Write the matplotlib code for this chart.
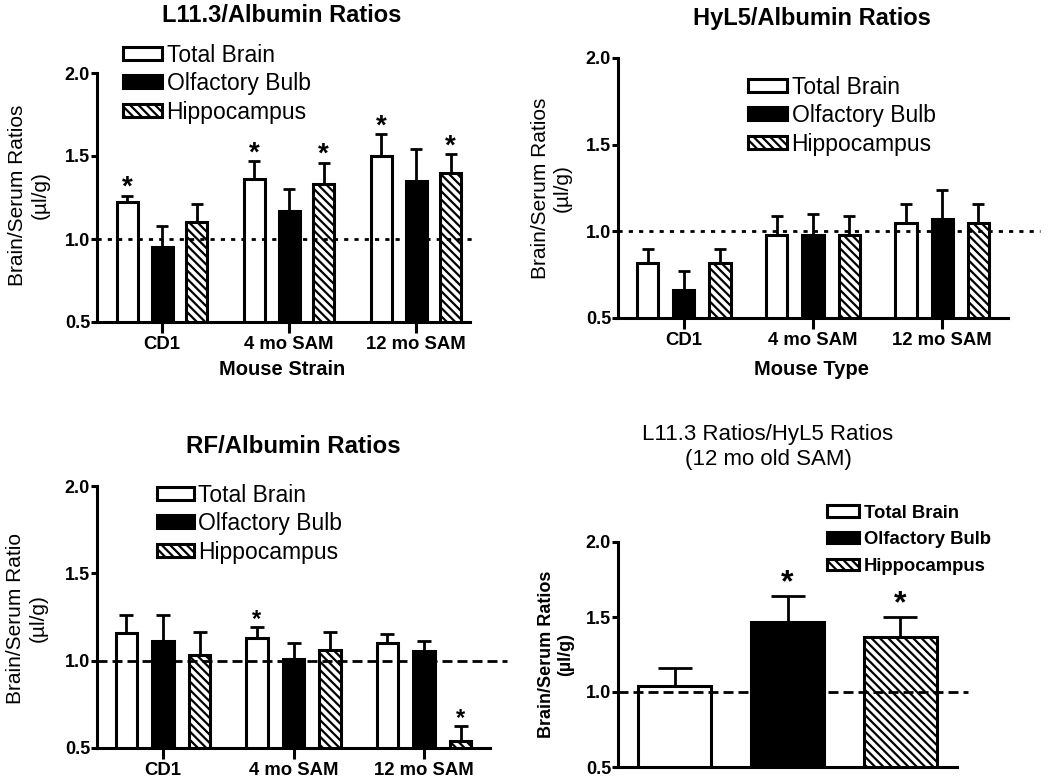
import matplotlib
matplotlib.use("Agg")
import matplotlib.pyplot as plt
import numpy as np

plt.rcParams['font.family'] = ['Liberation Sans', 'DejaVu Sans']
plt.rcParams['hatch.linewidth'] = 1.6

# Valores
grupos = ['CD1', '4 mo SAM', '12 mo SAM']
series = ['Total Brain', 'Olfactory Bulb', 'Hippocampus']

# L11.3/Albumin
l11_media = [[1.22, 1.36, 1.50], [0.95, 1.17, 1.35], [1.10, 1.33, 1.40]]
l11_sem = [[0.04, 0.11, 0.13], [0.13, 0.13, 0.19], [0.11, 0.13, 0.11]]
l11_sig = [[1, 1, 1], [0, 0, 0], [0, 1, 1]]

# HyL5/Albumin
hyl5_media = [[0.82, 0.98, 1.05], [0.66, 0.98, 1.07], [0.82, 0.98, 1.05]]
hyl5_sem = [[0.08, 0.11, 0.11], [0.11, 0.12, 0.17], [0.08, 0.11, 0.11]]
hyl5_sig = [[0, 0, 0], [0, 0, 0], [0, 0, 0]]

# RF/Albumin
rf_media = [[1.16, 1.13, 1.10], [1.11, 1.01, 1.055], [1.035, 1.06, 0.54]]
rf_sem = [[0.10, 0.06, 0.05], [0.15, 0.09, 0.055], [0.13, 0.105, 0.085]]
rf_sig = [[0, 1, 0], [0, 0, 0], [0, 0, 1]]

# L11.3 / HyL5 (12 mo SAM)
razao_media = [1.04, 1.47, 1.37]
razao_sem = [0.12, 0.17, 0.13]
razao_sig = [0, 1, 1]

W, H = 1050, 782
fig = plt.figure(figsize=(W / 100, H / 100), dpi=100)

cores = ['white', 'black', 'white']
hatches = [None, None, '\\\\\\\\']
LW = 2.2


def eixo(left, right, top, bottom, ytick_fs):
    ax = fig.add_axes([left / W, 1 - bottom / H, (right - left) / W, (bottom - top) / H])
    for s in ['top', 'right']:
        ax.spines[s].set_visible(False)
    for s in ['left', 'bottom']:
        ax.spines[s].set_linewidth(LW)
    ax.set_ylim(0.5, 2.0)
    ax.set_yticks([0.5, 1.0, 1.5, 2.0])
    ax.set_yticklabels(['0.5', '1.0', '1.5', '2.0'], fontsize=ytick_fs, fontweight='bold')
    ax.tick_params(axis='y', length=4, width=LW, pad=1)
    ax.tick_params(axis='x', length=8, width=LW, pad=2)
    return ax


def barras_grupo(ax, media, sem, sig, pitch, largura, star_fs, star_off, cap):
    x = np.arange(len(grupos))
    for i in range(3):
        xi = x + (i - 1) * pitch
        ax.bar(xi, media[i], largura, color=cores[i], edgecolor='black',
               linewidth=LW, hatch=hatches[i], label=series[i], zorder=2)
        ax.errorbar(xi, media[i], yerr=[np.zeros(3), sem[i]], fmt='none', ecolor='black',
                    elinewidth=2.0, capsize=cap, capthick=2.0, zorder=3)
        for j in range(3):
            if sig[i][j]:
                ax.annotate('*', (xi[j], media[i][j] + sem[i][j]), xytext=(0, star_off),
                            textcoords='offset points', ha='center', va='bottom',
                            fontsize=star_fs, fontweight='bold')


def legenda(ax, x, y, fs, peso, hl, hh, ls, tp):
    ax.legend(loc='upper left', bbox_to_anchor=(x / W, 1 - y / H), bbox_transform=fig.transFigure,
              frameon=False, borderpad=0, borderaxespad=0, handlelength=hl, handleheight=hh,
              handletextpad=tp, labelspacing=ls, prop={'size': fs, 'weight': peso})


def linha_ref(ax, x0, x1, estilo):
    ax.plot([x0, x1], [1.0, 1.0], color='black', lw=2.0, linestyle=estilo, clip_on=False, zorder=4)


# Painel 1
ax1 = eixo(97, 470, 73, 322, 13)
ax1.set_xlim(-0.512, 2.425)
barras_grupo(ax1, l11_media, l11_sem, l11_sig, 0.272, 0.165, 20, -3.8, 4.5)
linha_ref(ax1, -0.512, 2.48, (0, (1.5, 2.2)))
ax1.set_xticks(range(3))
ax1.set_xticklabels(grupos, fontsize=13.3, fontweight='bold')
legenda(ax1, 123, 43.5, 16.5, 'normal', 1.7, 0.5, 0.24, 0.2)
fig.text(282 / W, 1 - 15 / H, 'L11.3/Albumin Ratios', ha='center', va='center', fontsize=17, fontweight='bold')
fig.text(29 / W, 1 - 195 / H, 'Brain/Serum Ratios\n(µl/g)', rotation=90, ha='center', va='center',
         multialignment='center', fontsize=15)
fig.text(282 / W, 1 - 369 / H, 'Mouse Strain', ha='center', va='center', fontsize=14.5, fontweight='bold')

# Painel 2
ax2 = eixo(618, 1008, 58, 318, 13)
ax2.set_xlim(-0.51, 2.51)
barras_grupo(ax2, hyl5_media, hyl5_sem, hyl5_sig, 0.28, 0.163, 20, -3.8, 4.5)
linha_ref(ax2, -0.51, 2.76, (0, (1.5, 2.2)))
ax2.set_xticks(range(3))
ax2.set_xticklabels(grupos, fontsize=13.3, fontweight='bold')
legenda(ax2, 748, 75.5, 16.5, 'normal', 1.7, 0.5, 0.24, 0.2)
fig.text(812 / W, 1 - 18 / H, 'HyL5/Albumin Ratios', ha='center', va='center', fontsize=17, fontweight='bold')
fig.text(551 / W, 1 - 188 / H, 'Brain/Serum Ratios\n(µl/g)', rotation=90, ha='center', va='center',
         multialignment='center', fontsize=15)
fig.text(812 / W, 1 - 369 / H, 'Mouse Type', ha='center', va='center', fontsize=14.5, fontweight='bold')

# Painel 3
ax3 = eixo(97, 490, 486, 748, 13)
ax3.set_xlim(-0.506, 2.506)
barras_grupo(ax3, rf_media, rf_sem, rf_sig, 0.28, 0.165, 17, -2.7, 5)
linha_ref(ax3, -0.506, 2.64, (0, (3.6, 1.8)))
ax3.set_xticks(range(3))
ax3.set_xticklabels(grupos, fontsize=13.3, fontweight='bold')
legenda(ax3, 157, 483.5, 16.5, 'normal', 1.6, 0.5, 0.24, 0.2)
fig.text(293 / W, 1 - 446 / H, 'RF/Albumin Ratios', ha='center', va='center', fontsize=17.3, fontweight='bold')
fig.text(27 / W, 1 - 618 / H, 'Brain/Serum Ratio\n(µl/g)', rotation=90, ha='center', va='center',
         multialignment='center', fontsize=15)

# Painel 4
ax4 = eixo(618, 957, 542, 767, 13)
ax4.set_xlim(-0.5, 2.5)
x4 = np.arange(3)
for i in range(3):
    ax4.bar(x4[i], razao_media[i], 0.646, color=cores[i], edgecolor='black', linewidth=LW,
            hatch=hatches[i], label=series[i], zorder=2)
ax4.errorbar(x4, razao_media, yerr=[np.zeros(3), razao_sem], fmt='none', ecolor='black',
             elinewidth=2.0, capsize=12, capthick=2.0, zorder=3)
for i in range(3):
    if razao_sig[i]:
        ax4.annotate('*', (x4[i], razao_media[i] + razao_sem[i]), xytext=(0, -1.5),
                     textcoords='offset points', ha='center', va='bottom', fontsize=23, fontweight='bold')
linha_ref(ax4, -0.5, 2.6, (0, (3.6, 1.8)))
ax4.set_xticks([])
legenda(ax4, 827, 504.5, 13.3, 'bold', 1.75, 0.55, 0.53, 0.25)
fig.text(768 / W, 1 - 447 / H, 'L11.3 Ratios/HyL5 Ratios\n(12 mo old SAM)', ha='center', va='center',
         multialignment='center', fontsize=16)
fig.text(556 / W, 1 - 654 / H, 'Brain/Serum Ratios\n(µl/g)', rotation=90, ha='center', va='center',
         multialignment='center', fontsize=13, fontweight='bold')

fig.savefig('out.png', dpi=100)
